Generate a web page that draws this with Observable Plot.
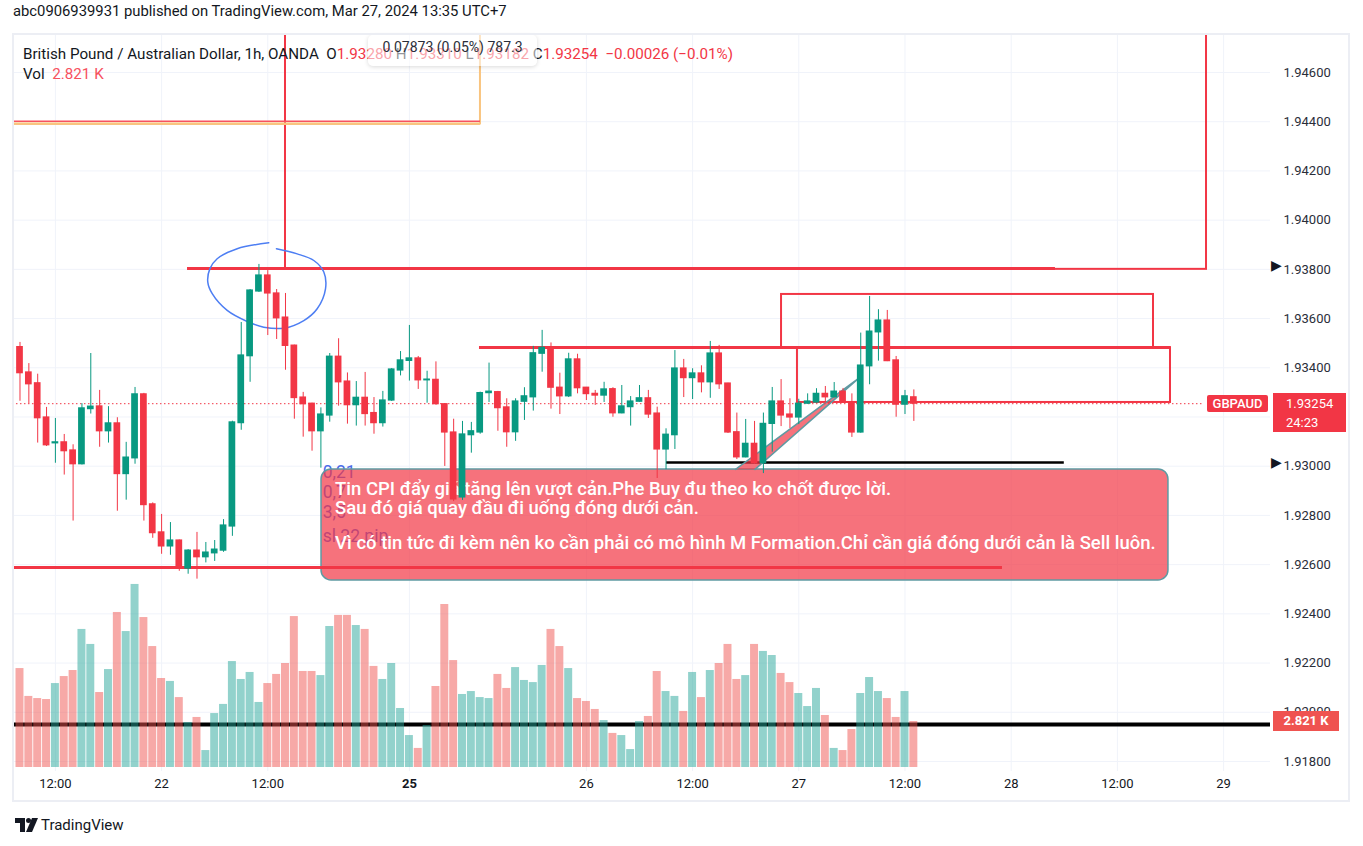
<!DOCTYPE html>
<html><head><meta charset="utf-8">
<script src="https://cdn.jsdelivr.net/npm/d3@7"></script>
<script src="https://cdn.jsdelivr.net/npm/@observablehq/plot@0.6"></script>
<style>
body{margin:0;background:#fff;font-family:Roboto,"Noto Sans",sans-serif;color:#131722;}
#wrap{position:relative;width:1363px;height:846px;overflow:hidden;background:#fff;}
#wrap > svg{position:absolute;left:0;top:0;}
.abs{position:absolute;white-space:nowrap;}
.r{color:#f23645;}
</style></head><body><div id="wrap"></div>
<script>
// ---- OHLC (1h GBPAUD), bar index 0 = Mar 21 08:00 ----
const opens=[1.93484,1.93381,1.93337,1.93198,1.93093,1.93097,1.93064,1.93008,1.93232,1.93243,1.93142,1.93174,1.92968,1.93032,1.93292,1.92845,1.92731,1.92674,1.92698,1.92584,1.92657,1.92630,1.92646,1.92657,1.92755,1.93175,1.93447,1.93710,1.93775,1.93702,1.93604,1.93490,1.93279,1.93254,1.93142,1.93206,1.93445,1.93344,1.93248,1.93278,1.93216,1.93175,1.93267,1.93389,1.93428,1.93438,1.93349,1.93351,1.93252,1.93137,1.92873,1.93126,1.93137,1.93297,1.93301,1.93239,1.93138,1.93262,1.93280,1.93457,1.93481,1.93319,1.93284,1.93434,1.93319,1.93294,1.93287,1.93313,1.93215,1.93240,1.93262,1.93276,1.93214,1.93068,1.93126,1.93397,1.93358,1.93377,1.93341,1.93458,1.93336,1.93138,1.93036,1.93091,1.93012,1.93172,1.93263,1.93210,1.93198,1.93254,1.93259,1.93294,1.93280,1.93303,1.93259,1.93137,1.93406,1.93544,1.93592,1.93430,1.93250,1.93280];
const highs=[1.93503,1.93417,1.93374,1.93239,1.93194,1.93129,1.93087,1.93254,1.93458,1.93308,1.93242,1.93197,1.93097,1.93320,1.93296,1.92851,1.92804,1.92771,1.92700,1.92661,1.92731,1.92690,1.92698,1.92783,1.93183,1.93584,1.93718,1.93820,1.93795,1.93718,1.93702,1.93492,1.93300,1.93256,1.93237,1.93458,1.93518,1.93379,1.93344,1.93381,1.93279,1.93304,1.93397,1.93466,1.93572,1.93446,1.93386,1.93424,1.93254,1.93191,1.93182,1.93178,1.93301,1.93419,1.93304,1.93274,1.93274,1.93319,1.93487,1.93552,1.93501,1.93378,1.93459,1.93455,1.93320,1.93308,1.93341,1.93319,1.93328,1.93283,1.93328,1.93308,1.93240,1.93152,1.93470,1.93434,1.93396,1.93408,1.93507,1.93491,1.93337,1.93216,1.93190,1.93182,1.93216,1.93320,1.93352,1.93274,1.93272,1.93294,1.93315,1.93324,1.93340,1.93316,1.93294,1.93541,1.93690,1.93636,1.93633,1.93446,1.93308,1.93310];
const lows=[1.93264,1.93254,1.93094,1.93080,1.93012,1.92964,1.92777,1.93005,1.93212,1.93077,1.93094,1.92817,1.92862,1.93008,1.92777,1.92707,1.92642,1.92638,1.92573,1.92561,1.92541,1.92607,1.92613,1.92650,1.92715,1.93146,1.93341,1.93706,1.93531,1.93515,1.93390,1.93191,1.93118,1.93061,1.92992,1.93179,1.93244,1.93171,1.93163,1.93163,1.93130,1.93159,1.93263,1.93367,1.93346,1.93312,1.93256,1.93248,1.92999,1.92856,1.92861,1.93053,1.93130,1.93259,1.93142,1.93077,1.93101,1.93186,1.93224,1.93382,1.93232,1.93210,1.93279,1.93294,1.93267,1.93247,1.93259,1.93199,1.93213,1.93163,1.93260,1.93194,1.92950,1.92986,1.93068,1.93279,1.93271,1.93298,1.93276,1.93312,1.93133,1.93027,1.93034,1.93008,1.92970,1.93057,1.93161,1.93153,1.93169,1.93252,1.93256,1.93256,1.93278,1.93257,1.93117,1.93134,1.93331,1.93427,1.93425,1.93199,1.93210,1.93182];
const closes=[1.93378,1.93333,1.93195,1.93085,1.93097,1.93061,1.93008,1.93235,1.93242,1.93142,1.93174,1.92968,1.93035,1.93292,1.92842,1.92728,1.92674,1.92698,1.92584,1.92657,1.92630,1.92649,1.92661,1.92759,1.93178,1.93450,1.93714,1.93775,1.93702,1.93601,1.93489,1.93277,1.93252,1.93142,1.93210,1.93445,1.93341,1.93248,1.93278,1.93212,1.93175,1.93267,1.93393,1.93430,1.93438,1.93349,1.93352,1.93252,1.93137,1.92865,1.93129,1.93142,1.93297,1.93303,1.93236,1.93138,1.93263,1.93284,1.93459,1.93481,1.93319,1.93284,1.93434,1.93317,1.93293,1.93287,1.93312,1.93215,1.93243,1.93263,1.93276,1.93210,1.93068,1.93128,1.93397,1.93358,1.93377,1.93341,1.93458,1.93333,1.93137,1.93036,1.93091,1.93012,1.93172,1.93263,1.93206,1.93198,1.93254,1.93263,1.93294,1.93280,1.93303,1.93259,1.93137,1.93409,1.93547,1.93592,1.93427,1.93250,1.93284,1.93254];
// volume in thousands
const volumes=[6.07,4.36,4.23,4.17,5.15,5.58,5.95,8.47,7.55,4.60,6.01,9.51,8.34,11.23,9.20,7.42,5.46,5.28,4.29,2.76,3.07,1.04,3.31,3.87,6.50,5.40,5.83,3.99,5.15,5.71,6.38,9.26,5.89,5.89,5.64,8.65,9.33,9.33,8.71,8.47,6.20,5.40,6.38,3.62,1.96,1.17,2.58,4.97,10.00,6.56,4.48,4.66,4.29,4.23,5.71,4.85,6.13,5.34,5.21,6.26,8.47,7.42,6.07,4.23,4.05,3.56,2.88,2.09,1.96,1.10,2.82,3.13,5.89,4.66,4.36,3.44,5.83,4.29,5.95,6.38,7.55,5.40,5.64,7.55,7.12,6.87,5.77,5.21,4.54,3.74,4.85,3.19,1.17,1.04,2.33,4.54,5.52,4.66,4.23,3.07,4.66,2.821];

// ---- axes ----
const priceTicks=[1.918,1.920,1.922,1.924,1.926,1.928,1.930,1.932,1.934,1.936,1.938,1.940,1.942,1.944,1.946];
const timeTickIndex=[4,16,28,44,64,76,88,100,112,124,136];
const timeTickLabel=["12:00","22","12:00","25","26","12:00","27","12:00","28","12:00","29"];
const timeTickBold=[false,false,false,true,false,false,false,false,false,false,false];

// ---- drawings (bar index, price) ----
const hLineX1=[-0.85,-0.85,18.93,51.92,73.05,-0.85];
const hLineX2=[52.03,52.03,117.0,130.0,118.0,111.0];
const hLineY=[1.94402,1.94391,1.93803,1.93482,1.93015,1.92588];
const hLineColor=["#f7525f","#f9c47f","#f23645","#f23645","#000000","#f23645"];
const hLineWidth=[1.5,2,3,3,2.5,3];
const volLine=1.91950;
const boxX1=[30.0,-5,86.05,87.85];
const boxX2=[134.07,52.03,128.08,130.0];
const boxY1=[1.93800,1.94391,1.93482,1.93259];
const boxY2=[1.95000,1.95000,1.93698,1.93482];
const boxColor=["#f23645","#f9c47f","#f23645","#f23645"];
const circleI=[28.11,24.54,22.28,21.45,21.22,21.72,23.41,25.67,27.55,29.81,32.07,33.58,34.52,34.33,33.20,31.32,28.98];
const circleP=[1.93908,1.93884,1.93843,1.93802,1.93748,1.93701,1.93633,1.93588,1.93565,1.93561,1.93592,1.93640,1.93721,1.93789,1.93836,1.93863,1.93884];
const calloutBox={x1:34.07,x2:129.77,y1:1.92536,y2:1.92987};
const pointerI=[80.85,94.75,83.05];
const pointerP=[1.92987,1.93357,1.92987];
const noteText=["Tin CPI đẩy giá tăng lên vượt cản.Phe Buy đu theo ko chốt được lời.","Sau đó giá quay đầu đi uống đóng dưới cản.","Vì có tin tức đi kèm nên ko cần phải có mô hình M Formation.Chỉ cần giá đóng dưới cản là Sell luôn."];
const noteP=[1.92909,1.92828,1.92686];
const noteI=35.6;
const subText=["0,21","0,7","3,5","sl 22 pip"];
const subP=[1.92974,1.92893,1.92812,1.92715];
const subI=34.2;
const priceLineEnd=133.84;
const alertLevels=[1.93800,1.93000];

const GREEN="#089981", RED="#f23645";
const bars=opens.map((o,i)=>({i,o,h:highs[i],l:lows[i],c:closes[i],v:volumes[i],up:closes[i]>=o}));
const hLines=hLineY.map((y,k)=>({y,x1:hLineX1[k],x2:hLineX2[k],c:hLineColor[k],w:hLineWidth[k]}));
const boxes=boxX1.map((x1,k)=>({x1,x2:boxX2[k],y1:boxY1[k],y2:boxY2[k],c:boxColor[k]}));
const circle=circleI.map((i,k)=>({i,p:circleP[k]}));
const pointer=pointerI.map((i,k)=>({i,p:pointerP[k]}));
const notes=noteText.map((t,k)=>({t,p:noteP[k]}));
const subs=subText.map((t,k)=>({t,p:subP[k]}));
const tticks=timeTickIndex.map((i,k)=>({i,label:timeTickLabel[k],bold:timeTickBold[k]}));
const last=bars[bars.length-1];

const W=1363,H=846;
const xScale={type:"linear",domain:[-0.847,141.3],range:[12,1270]};
const common={width:W,height:H,marginLeft:12,marginRight:93,marginTop:34,marginBottom:75};

const pricePlot=Plot.plot({
  ...common,
  x:{...xScale,axis:null},
  y:{domain:[1.917593,1.947544],range:[771,34],axis:"right",ticks:priceTicks,tickFormat:d=>d.toFixed(5),tickSize:0,tickPadding:13,label:null},
  color:{type:"identity"},
  style:{background:"transparent",fontFamily:"Roboto, 'Noto Sans', sans-serif",fontSize:"13px",color:"#2a2e39",overflow:"visible"},
  marks:[
    Plot.ruleY(priceTicks,{stroke:"#f0f3fa"}),
    Plot.ruleX(tticks,{x:"i",stroke:"#f0f3fa"}),
    Plot.ruleY([volLine],{stroke:"#000",strokeWidth:4}),
    Plot.rect(boxes,{x1:"x1",x2:"x2",y1:"y1",y2:"y2",fill:"none",stroke:"c",strokeWidth:2,clip:true}),
    Plot.ruleY(hLines,{y:"y",x1:"x1",x2:"x2",stroke:"c",strokeWidth:"w",clip:true}),
    Plot.line(circle,{x:"i",y:"p",stroke:"#4d7ef3",strokeWidth:1.5,curve:"catmull-rom"}),
    Plot.text(subs,{x:subI,y:"p",text:"t",textAnchor:"start",fill:"#4a6ae8",fontSize:17.5}),
    Plot.rect([calloutBox],{x1:"x1",x2:"x2",y1:"y1",y2:"y2",fill:RED,fillOpacity:0.7,stroke:"#5f9aa2",strokeWidth:1.5,rx:10}),
    Plot.line(pointer,{x:"i",y:"p",fill:RED,fillOpacity:0.7,stroke:"#5f9aa2",strokeWidth:1.5}),
    Plot.text(notes,{x:noteI,y:"p",text:"t",textAnchor:"start",fill:"#ffffff",fontSize:18.5,fontWeight:500}),
    Plot.ruleY([hLines[5]],{y:"y",x1:"x1",x2:"x2",stroke:RED,strokeWidth:3}),
    Plot.ruleY([last.c],{x1:-0.85,x2:priceLineEnd,stroke:RED,strokeDasharray:"1.5,2.5",strokeWidth:1}),
    Plot.ruleX(bars,{x:"i",y1:"l",y2:"h",stroke:d=>d.up?GREEN:RED,strokeWidth:1}),
    Plot.rect(bars,{x1:d=>d.i-0.38,x2:d=>d.i+0.38,y1:d=>Math.min(d.o,d.c),y2:d=>Math.max(d.o,d.c),fill:d=>d.up?GREEN:RED,insetTop:-0.6,insetBottom:-0.6}),
    Plot.text(tticks.filter(d=>!d.bold),{x:"i",text:"label",frameAnchor:"bottom",dy:16,fill:"#131722",fontSize:13}),
    Plot.text(tticks.filter(d=>d.bold),{x:"i",text:"label",frameAnchor:"bottom",dy:16,fill:"#131722",fontSize:13,fontWeight:"bold"})
  ]
});

const volPlot=Plot.plot({
  ...common,
  x:{...xScale,axis:null},
  y:{domain:[0,44.97],range:[767,34],axis:null},
  color:{type:"identity"},
  style:{background:"transparent"},
  marks:[
    Plot.rect(bars,{x1:d=>d.i-0.45,x2:d=>d.i+0.45,y1:0,y2:"v",fill:d=>d.up?"#26a69a":"#ef5350",fillOpacity:0.5})
  ]
});

const wrap=document.getElementById("wrap");
wrap.appendChild(pricePlot);
wrap.appendChild(volPlot);
const ys=pricePlot.scale("y"), vs=volPlot.scale("y");
function add(html,style){const d=document.createElement("div");d.className="abs";d.innerHTML=html;Object.assign(d.style,style);wrap.appendChild(d);return d;}
const yLast=ys.apply(last.c);
add("GBPAUD",{left:"1207px",top:(yLast-8.5)+"px",width:"61px",height:"17px",lineHeight:"17px",background:RED,color:"#fff",fontSize:"13px",fontWeight:"500",textAlign:"center",borderRadius:"2px"});
add(last.c.toFixed(5)+"<br>24:23",{left:"1273px",top:(yLast-10)+"px",width:"73px",height:"39px",background:RED,color:"#fff",fontSize:"13px",lineHeight:"19px",paddingLeft:"13px",boxSizing:"border-box",paddingTop:"1px"});
alertLevels.forEach(p=>add("▶",{left:"1271px",top:(ys.apply(p)-12)+"px",fontSize:"14px",color:"#131722",lineHeight:"16px"}));
const yVol=vs.apply(last.v);
add((last.v).toFixed(3)+" K",{left:"1273px",top:(yVol-10)+"px",width:"66px",height:"20px",lineHeight:"20px",background:"#ef5350",color:"#fff",fontSize:"13px",fontWeight:"bold",textAlign:"center"});
// header
add("abc0906939931 published on TradingView.com, Mar 27, 2024 13:35 UTC+7",{left:"13px",top:"2px",fontSize:"14.8px",color:"#131722",lineHeight:"18px"});
add(`British Pound / Australian Dollar, 1h, OANDA&nbsp; O<span class="r">${last.o.toFixed(5)}</span> H<span class="r">${last.h.toFixed(5)}</span> L<span class="r">${last.l.toFixed(5)}</span> C<span class="r">${last.c.toFixed(5)}</span> <span class="r">&nbsp;−0.00026 (−0.01%)</span>`,{left:"23px",top:"45px",fontSize:"15.2px",lineHeight:"18px",color:"#131722"});
add(`Vol&nbsp; <span style="color:#f7525f">${last.v.toFixed(3)} K</span>`,{left:"23px",top:"65px",fontSize:"15.2px",lineHeight:"18px",color:"#131722"});
add("0.07873 (0.05%) 787.3",{left:"368px",top:"35px",width:"169px",height:"31px",background:"rgba(255,255,255,0.55)",borderRadius:"5px",boxShadow:"0 1px 4px rgba(0,0,0,0.15)",fontSize:"14px",color:"#2a2e39",textAlign:"center",lineHeight:"18px",paddingTop:"3px",boxSizing:"border-box"});
// frame
add("",{left:"12px",top:"33px",width:"1338px",height:"769px",border:"2px solid #eceef4",boxSizing:"border-box"});
// footer logo
add(`<svg width="24" height="14" viewBox="0 0 24 14" style="vertical-align:-2px;margin-right:2px"><path d="M0 0h10v14h-5V5H0z" fill="#131722"/><circle cx="13.5" cy="2.5" r="2.5" fill="#131722"/><path d="M17 0h6l-6 14h-6z" fill="#131722"/></svg>TradingView`,{left:"15px",top:"816px",fontSize:"15px",color:"#131722",lineHeight:"18px"});
</script></body></html>
